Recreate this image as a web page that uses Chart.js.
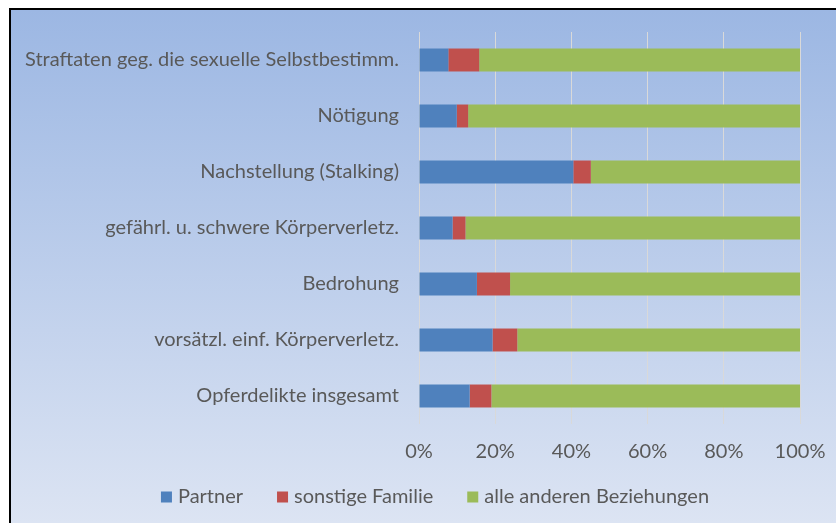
<!DOCTYPE html>
<html lang="de">
<head>
    <meta charset="UTF-8">
    <title>Opferdelikte nach Beziehung</title>
    <script src="https://cdn.jsdelivr.net/npm/chart.js"></script>
    <style>
        html, body { margin: 0; padding: 0; background: #ffffff; }
        #wrap { width: 836px; height: 523px; }
    </style>
</head>
<body>
    <div id="wrap"><canvas id="chart" width="836" height="523"></canvas></div>
    <script>
        // Kategorien (von oben nach unten)
        const categories = [
            'Straftaten geg. die sexuelle Selbstbestimm.',
            'Nötigung',
            'Nachstellung (Stalking)',
            'gefährl. u. schwere Körperverletz.',
            'Bedrohung',
            'vorsätzl. einf. Körperverletz.',
            'Opferdelikte insgesamt'
        ];
        // Anteile in Prozent, aus dem Bild geschätzt
        const partner = [7.7, 9.9, 40.5, 8.8, 15.2, 19.3, 13.3];
        const sonstigeFamilie = [8.1, 3.0, 4.6, 3.4, 8.7, 6.5, 5.7];
        const andereBeziehungen = [84.2, 87.1, 54.9, 87.8, 76.1, 74.2, 81.0];
        const xTicks = [0, 20, 40, 60, 80, 100];

        const textColor = '#595959';
        const fontFamily = 'Lato, "Liberation Sans", sans-serif';

        // Hintergrund mit Verlauf und schwarzem Rahmen
        const backgroundPlugin = {
            id: 'background',
            beforeDraw(chart) {
                const ctx = chart.ctx;
                ctx.save();
                ctx.fillStyle = '#ffffff';
                ctx.fillRect(0, 0, chart.width, chart.height);
                const grad = ctx.createLinearGradient(0, 10, 0, chart.height);
                grad.addColorStop(0, '#9cb7e3');
                grad.addColorStop(1, '#dce4f3');
                ctx.fillStyle = grad;
                ctx.fillRect(11, 10, chart.width - 11, chart.height - 10);
                ctx.fillStyle = '#000000';
                ctx.fillRect(9, 8, chart.width - 9, 2);
                ctx.fillRect(9, 8, 2, chart.height - 8);
                ctx.restore();
            }
        };

        // Legende unten, zentriert wie im Original (Kasten 11px, dann Text)
        const legendPlugin = {
            id: 'customLegend',
            afterDraw(chart) {
                const ctx = chart.ctx;
                const box = 11, gapText = 6, gapItem = 34, centerX = 435, centerY = 497;
                ctx.save();
                ctx.font = '20px ' + fontFamily;
                ctx.textBaseline = 'middle';
                const items = chart.data.datasets.map(ds => ({
                    text: ds.label, color: ds.backgroundColor, w: ctx.measureText(ds.label).width
                }));
                const total = items.reduce((s, it) => s + box + gapText + it.w, 0) + gapItem * (items.length - 1);
                let x = centerX - total / 2;
                items.forEach(it => {
                    ctx.fillStyle = it.color;
                    ctx.fillRect(x, centerY - box / 2, box, box);
                    ctx.fillStyle = textColor;
                    ctx.fillText(it.text, x + box + gapText, centerY);
                    x += box + gapText + it.w + gapItem;
                });
                ctx.restore();
            }
        };

        new Chart(document.getElementById('chart'), {
            type: 'bar',
            data: {
                labels: categories,
                datasets: [
                    { label: 'Partner', data: partner, backgroundColor: '#4f81bd' },
                    { label: 'sonstige Familie', data: sonstigeFamilie, backgroundColor: '#c0504d' },
                    { label: 'alle anderen Beziehungen', data: andereBeziehungen, backgroundColor: '#9bbb59' }
                ]
            },
            options: {
                indexAxis: 'y',
                responsive: false,
                animation: false,
                layout: { padding: { left: 9, right: 36, top: 32, bottom: 0 } },
                datasets: { bar: { barPercentage: 0.41, categoryPercentage: 1 } },
                scales: {
                    x: {
                        stacked: true,
                        min: 0,
                        max: 100,
                        afterBuildTicks(axis) { axis.ticks = xTicks.map(v => ({ value: v })); },
                        afterFit(axis) {
                            axis.height = 99;
                            axis.paddingLeft = 0;
                            axis.paddingRight = 0;
                        },
                        grid: { color: '#d9d9d9', drawTicks: false },
                        border: { display: false },
                        ticks: {
                            padding: 16,
                            color: textColor,
                            font: { family: fontFamily, size: 20 },
                            callback: v => v + '%'
                        }
                    },
                    y: {
                        stacked: true,
                        afterFit(axis) { axis.width = 410; },
                        grid: { display: false, drawTicks: false },
                        border: { display: false },
                        ticks: {
                            padding: 20,
                            color: textColor,
                            font: { family: fontFamily, size: 20 }
                        }
                    }
                },
                plugins: {
                    legend: { display: false },
                    tooltip: { enabled: false }
                }
            },
            plugins: [backgroundPlugin, legendPlugin]
        });
    </script>
</body>
</html>
